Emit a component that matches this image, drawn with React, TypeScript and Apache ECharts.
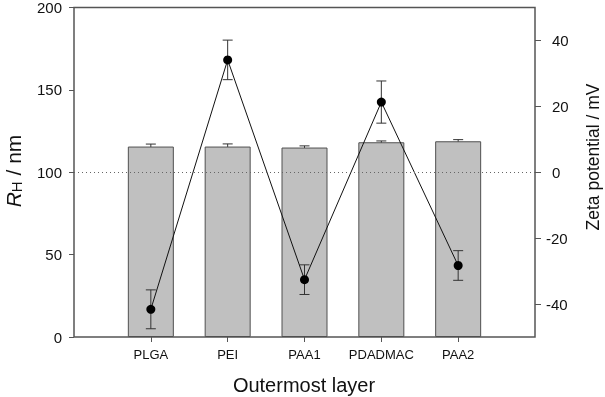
import React, { useEffect, useRef } from "react";
import * as echarts from "echarts";

const categories = ["PLGA", "PEI", "PAA1", "PDADMAC", "PAA2"];
const rhValues = [115.6, 115.6, 115.0, 118.2, 118.8];
const rhErrors = [1.5, 1.6, 1.0, 0.8, 1.0];
const zetaValues = [-41.6, 34.1, -32.6, 21.3, -28.3];
const zetaErrors = [5.9, 6.0, 4.5, 6.4, 4.5];
const rhTicks = [0, 50, 100, 150, 200];
const zetaTicks = [-40, -20, 0, 20, 40];

const FONT = "'Liberation Sans', Arial, sans-serif";
const AXIS = "#555";

function errorBar(params: any, api: any) {
  const x = api.value(0);
  const lo = api.coord([x, api.value(1)]);
  const hi = api.coord([x, api.value(2)]);
  const half = 5;
  const style = { stroke: "#333", lineWidth: 1 };
  return {
    type: "group",
    children: [
      { type: "line", shape: { x1: hi[0], y1: hi[1], x2: lo[0], y2: lo[1] }, style },
      { type: "line", shape: { x1: hi[0] - half, y1: hi[1], x2: hi[0] + half, y2: hi[1] }, style },
      { type: "line", shape: { x1: lo[0] - half, y1: lo[1], x2: lo[0] + half, y2: lo[1] }, style },
    ],
  };
}

export default function App() {
  const ref = useRef<HTMLDivElement>(null);
  useEffect(() => {
    if (!ref.current) return;
    const chart = echarts.init(ref.current, undefined, { renderer: "svg" });
    const axisCats = ["", ...categories, ""];
    const pad = (arr: number[]) => ["-", ...arr, "-"];
    chart.setOption({
      animation: false,
      grid: {
        left: 74,
        right: 70,
        top: 6,
        bottom: 60,
        show: true,
        borderColor: AXIS,
        borderWidth: 1.5,
        backgroundColor: "transparent",
      },
      xAxis: {
        type: "category",
        data: axisCats,
        boundaryGap: false,
        axisLine: { show: false },
        axisTick: {
          show: true,
          length: 5,
          interval: (i: number) => i > 0 && i < axisCats.length - 1,
          lineStyle: { color: AXIS, width: 1 },
        },
        axisLabel: {
          interval: 0,
          margin: 11,
          fontSize: 13,
          fontFamily: FONT,
          color: "#111",
        },
        splitLine: { show: false },
      },
      yAxis: [
        {
          type: "value",
          min: rhTicks[0],
          max: rhTicks[rhTicks.length - 1],
          interval: 50,
          axisLine: { show: false },
          axisTick: { show: true, length: 5, lineStyle: { color: AXIS, width: 1 } },
          axisLabel: { margin: 12, fontSize: 15, fontFamily: FONT, color: "#111" },
          splitLine: { show: false },
        },
        {
          type: "value",
          position: "right",
          min: -50,
          max: 50,
          axisLine: { show: false },
          axisTick: {
            show: true,
            length: 6,
            customValues: zetaTicks,
            lineStyle: { color: AXIS, width: 1 },
          },
          axisLabel: {
            customValues: zetaTicks,
            margin: 11,
            align: "left",
            fontSize: 15,
            fontFamily: FONT,
            color: "#111",
            formatter: (v: number) => (v < 0 ? `{n|${v}}` : `{p|${v}}`),
            rich: {
              n: { fontSize: 15, fontFamily: FONT, color: "#111" },
              p: { fontSize: 15, fontFamily: FONT, color: "#111", padding: [0, 0, 0, 6] },
            },
          },
          splitLine: { show: false },
        },
      ],
      series: [
        {
          type: "custom",
          name: "rhErr",
          yAxisIndex: 0,
          z: 1,
          renderItem: errorBar,
          encode: { x: 0, y: [1, 2] },
          data: rhValues.map((v, i) => [i + 1, v - rhErrors[i], v + rhErrors[i]]),
        },
        {
          type: "bar",
          name: "RH",
          yAxisIndex: 0,
          z: 2,
          barWidth: 46,
          itemStyle: { color: "#c0c0c0", borderColor: "#505050", borderWidth: 1 },
          data: pad(rhValues),
        },
        {
          type: "custom",
          name: "zetaErr",
          yAxisIndex: 1,
          z: 3,
          renderItem: errorBar,
          encode: { x: 0, y: [1, 2] },
          data: zetaValues.map((v, i) => [i + 1, v - zetaErrors[i], v + zetaErrors[i]]),
        },
        {
          type: "line",
          name: "Zeta",
          yAxisIndex: 1,
          z: 4,
          symbol: "circle",
          symbolSize: 9,
          itemStyle: { color: "#000" },
          lineStyle: { color: "#111", width: 1 },
          data: pad(zetaValues),
          markLine: {
            silent: true,
            symbol: ["none", "none"],
            label: { show: false },
            lineStyle: { type: [1, 3], color: "#666", width: 1 },
            data: [{ yAxis: 0 }],
          },
        },
      ],
      graphic: [
        {
          type: "text",
          x: 13,
          y: 171,
          rotation: Math.PI / 2,
          style: {
            text: "{r|R}{h|H}{n| / nm}",
            align: "center",
            verticalAlign: "middle",
            fill: "#111",
            rich: {
              r: { fontSize: 21, fontStyle: "italic", fontFamily: FONT, fill: "#111" },
              h: { fontSize: 15, fontFamily: FONT, fill: "#111", padding: [6, 0, 0, 0] },
              n: { fontSize: 21, fontFamily: FONT, fill: "#111" },
            },
          },
        },
        {
          type: "text",
          x: 593,
          y: 157,
          rotation: Math.PI / 2,
          style: {
            text: "Zeta potential / mV",
            align: "center",
            verticalAlign: "middle",
            fontSize: 17.5,
            fontFamily: FONT,
            fill: "#111",
          },
        },
        {
          type: "text",
          x: 304,
          y: 385,
          style: {
            text: "Outermost layer",
            align: "center",
            verticalAlign: "middle",
            fontSize: 20,
            fontFamily: FONT,
            fill: "#111",
          },
        },
      ],
    });
    return () => chart.dispose();
  }, []);
  return (
    <div
      ref={ref}
      style={{ position: "fixed", left: 0, top: 0, width: 605, height: 397 }}
    />
  );
}
